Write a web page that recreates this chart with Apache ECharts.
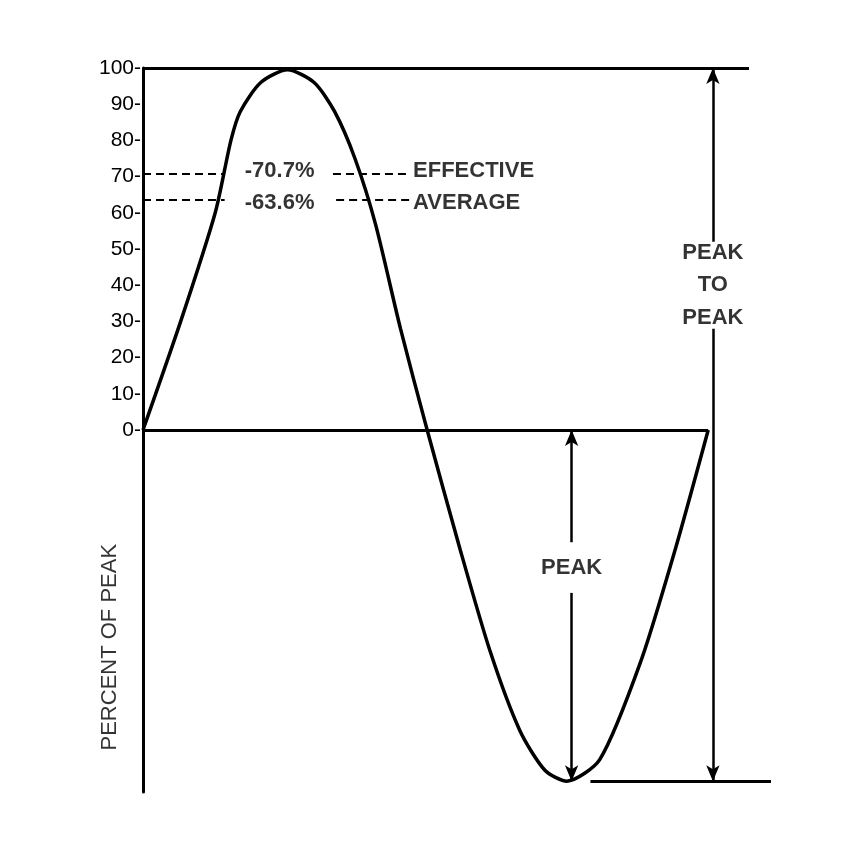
<!DOCTYPE html>
<html><head><meta charset="utf-8">
<script src="https://cdn.jsdelivr.net/npm/echarts@6/dist/echarts.min.js"></script>
<style>html,body{margin:0;background:#fff}#c{width:864px;height:845px}</style>
</head><body><div id="c"></div>
<script>
// wave (x in degrees, y in percent of peak)
var waveX = [0, 24, 46, 56, 62, 75, 92, 109, 122, 135, 148, 164, 181, 202, 221, 240, 256, 270, 291, 317, 339, 360];
var waveY = [0, 30, 60, 80, 88, 96, 99.5, 96, 88, 75, 57, 28, 0, -33, -61, -83, -94, -97, -91, -64, -33, 0];
var yTicks = [0, 10, 20, 30, 40, 50, 60, 70, 80, 90, 100];
var effective = 70.7, average = 63.6;

var F = 'Liberation Sans, DejaVu Sans, sans-serif';
var ink = '#000';
var wave = waveX.map(function (x, i) { return [x, waveY[i]]; });

function seg(a, b, style) {
    return [{coord: a, lineStyle: style}, {coord: b}];
}
var solid = {color: ink, width: 3, type: 'solid'};
var thin = {color: ink, width: 2.5, type: 'solid'};
var dash = {color: ink, width: 2, type: [8, 5]};

var lines = [
    seg([0, 0], [360, 0], solid),
    seg([0, 100], [386, 100], solid),
    seg([285, -97], [400, -97], solid),
    seg([0, effective], [52, effective], dash),
    seg([121, effective], [170, effective], dash),
    seg([0, average], [52, average], dash),
    seg([123, average], [170, average], dash)
];

var labels = [
    {value: [87, effective + 1], text: '-70.7%'},
    {value: [87, average - 1], text: '-63.6%'},
    {value: [172, effective + 1], text: 'EFFECTIVE', align: 'left'},
    {value: [172, average - 1], text: 'AVERAGE', align: 'left'},
    {value: [363, 49], text: 'PEAK'},
    {value: [363, 40], text: 'TO'},
    {value: [363, 31], text: 'PEAK'},
    {value: [273, -38], text: 'PEAK'}
];

var option = {
    animation: false,
    grid: {left: 143, right: 93, top: 68, bottom: 53},
    xAxis: {type: 'value', min: 0, max: 400, show: false},
    yAxis: {
        type: 'value', min: -100, max: 100, interval: 10,
        axisLine: {show: true, lineStyle: {color: ink, width: 3}},
        axisTick: {show: false}, splitLine: {show: false},
        axisLabel: {
            margin: 2, color: ink, fontFamily: F, fontSize: 21,
            formatter: function (v) { return v >= 0 ? v + '-' : ''; }
        }
    },
    series: [{
        type: 'line', data: wave, smooth: 0.25, symbol: 'none',
        lineStyle: {color: ink, width: 3.5}
    }, {
        type: 'line', data: [], clip: false,
        markLine: {silent: true, symbol: 'none', label: {show: false}, data: lines}
    }, {
        type: 'line', data: [], clip: false,
        markLine: {silent: true, symbol: ['arrow', 'none'], symbolSize: [10, 16], label: {show: false},
            data: [seg([363, 100], [363, 52], thin)]}
    }, {
        type: 'line', data: [], clip: false,
        markLine: {silent: true, symbol: ['none', 'arrow'], symbolSize: [10, 16], label: {show: false},
            data: [seg([363, 28], [363, -97], thin), seg([273, -31], [273, 0], thin), seg([273, -45], [273, -97], thin)]}
    }, {
        type: 'scatter', symbolSize: 0, clip: false,
        data: labels.map(function (l) {
            return {value: l.value, label: {formatter: l.text, align: l.align || 'center'}};
        }),
        label: {show: true, position: 'inside', color: ink, fontFamily: F, fontSize: 22, fontWeight: 'bold'}
    }, {
        type: 'scatter', symbolSize: 0, clip: false,
        data: [[-21, -60]],
        label: {show: true, formatter: 'PERCENT OF PEAK', rotate: 90, position: 'inside',
            color: ink, fontFamily: F, fontSize: 22}
    }]
};
echarts.init(document.getElementById('c')).setOption(option);
</script>
</body></html>
